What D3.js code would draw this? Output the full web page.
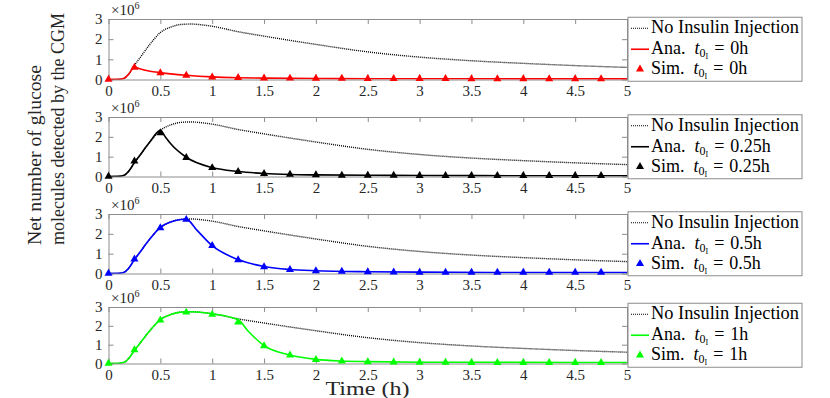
<!DOCTYPE html>
<html>
<head>
<meta charset="utf-8">
<script src="https://cdn.jsdelivr.net/npm/d3@7"></script>
<style>
body{margin:0;background:#fff;}
.axis path,.axis line{stroke:#8c8c8c;}
</style>
</head>
<body>
<svg id="chart" width="830" height="398"></svg>
<script>
// no insulin injection curve (same in every panel), values in 1e6
var timeNo = [0, 0.1, 0.15, 0.2, 0.25, 0.3, 0.4, 0.5, 0.6, 0.7, 0.8, 0.9, 1.0, 1.25, 1.5, 1.75, 2.0, 2.5, 3.0, 3.5, 4.0, 4.5, 5.0];
var noInsulin = [0, 0.01, 0.06, 0.3, 0.7, 1.05, 1.75, 2.33, 2.6, 2.73, 2.75, 2.71, 2.64, 2.37, 2.15, 1.94, 1.74, 1.37, 1.11, 0.93, 0.8, 0.69, 0.6];

// analytic curves
var anaTime0 = [0, 0.1, 0.15, 0.2, 0.25, 0.3, 0.4, 0.5, 0.6, 0.75, 1.0, 1.25, 1.5, 2.0, 2.5, 3.0, 4.0, 5.0];
var ana0 = [0, 0.01, 0.06, 0.3, 0.62, 0.53, 0.41, 0.34, 0.28, 0.21, 0.13, 0.09, 0.07, 0.05, 0.04, 0.04, 0.03, 0.03];
var anaTime025 = [0, 0.1, 0.15, 0.2, 0.25, 0.3, 0.4, 0.5, 0.55, 0.6, 0.75, 1.0, 1.25, 1.5, 1.75, 2.0, 2.5, 3.0, 4.0, 5.0];
var ana025 = [0, 0.01, 0.06, 0.3, 0.7, 1.05, 1.75, 2.33, 1.98, 1.65, 0.97, 0.45, 0.25, 0.15, 0.1, 0.08, 0.06, 0.05, 0.04, 0.04];
var anaTime05 = [0, 0.1, 0.15, 0.2, 0.25, 0.3, 0.4, 0.5, 0.6, 0.7, 0.75, 0.85, 1.0, 1.25, 1.5, 1.75, 2.0, 2.5, 3.0, 4.0, 5.0];
var ana05 = [0, 0.01, 0.06, 0.3, 0.7, 1.05, 1.75, 2.33, 2.6, 2.72, 2.74, 2.2, 1.4, 0.7, 0.35, 0.2, 0.14, 0.09, 0.07, 0.05, 0.05];
var anaTime1 = [0, 0.1, 0.15, 0.2, 0.25, 0.3, 0.4, 0.5, 0.6, 0.7, 0.8, 0.9, 1.0, 1.25, 1.35, 1.5, 1.75, 2.0, 2.25, 2.5, 3.0, 4.0, 5.0];
var ana1 = [0, 0.01, 0.06, 0.3, 0.7, 1.05, 1.75, 2.33, 2.6, 2.73, 2.75, 2.71, 2.64, 2.32, 1.7, 0.95, 0.45, 0.22, 0.13, 0.1, 0.07, 0.06, 0.05];

// simulation markers
var simTime = [0, 0.25, 0.5, 0.75, 1, 1.25, 1.5, 1.75, 2, 2.25, 2.5, 2.75, 3, 3.25, 3.5, 3.75, 4, 4.25, 4.5, 4.75];
var sim0 = [0, 0.6, 0.33, 0.2, 0.12, 0.09, 0.07, 0.06, 0.05, 0.05, 0.04, 0.04, 0.04, 0.04, 0.03, 0.03, 0.03, 0.03, 0.03, 0.03];
var sim025 = [0, 0.77, 2.2, 0.95, 0.44, 0.24, 0.14, 0.1, 0.08, 0.06, 0.05, 0.05, 0.04, 0.04, 0.04, 0.04, 0.04, 0.04, 0.04, 0.04];
var sim05 = [0, 0.72, 2.3, 2.72, 1.4, 0.68, 0.33, 0.19, 0.13, 0.1, 0.08, 0.07, 0.06, 0.06, 0.05, 0.05, 0.05, 0.05, 0.05, 0.05];
var sim1 = [0, 0.72, 2.3, 2.72, 2.6, 2.2, 0.93, 0.44, 0.2, 0.12, 0.09, 0.07, 0.06, 0.06, 0.05, 0.05, 0.05, 0.05, 0.05, 0.05];

var xTicks = [0, 0.5, 1, 1.5, 2, 2.5, 3, 3.5, 4, 4.5, 5];
var yTicks = [0, 1, 2, 3];
var injLabels = ["0", "0.25", "0.5", "1"];
var colors = ["#ff0000", "#000000", "#0000ff", "#00ff00"];

var serif = "'Liberation Serif', 'Times New Roman', 'DejaVu Serif', serif";

var panels = [
  {anaT: anaTime0, ana: ana0, sim: sim0},
  {anaT: anaTime025, ana: ana025, sim: sim025},
  {anaT: anaTime05, ana: ana05, sim: sim05},
  {anaT: anaTime1, ana: ana1, sim: sim1}
];
var tops = [19, 117, 214, 307];
var bottoms = [79.5, 176.5, 273.5, 363.5];

var svg = d3.select("#chart");
var x = d3.scaleLinear().domain([0, 5]).range([108.5, 627]);

function setFont(sel, size){
  sel.attr("font-family", serif).style("font-family", serif).style("font-size", size + "px");
}

panels.forEach(function(p, i){
  var y = d3.scaleLinear().domain([0, 3]).range([bottoms[i], tops[i]]);
  var g = svg.append("g");

  g.append("clipPath").attr("id", "clip" + i)
    .append("rect").attr("x", x(0)).attr("y", tops[i])
    .attr("width", x(5) - x(0)).attr("height", bottoms[i] - tops[i]);

  // axes, ticks inward like matlab
  var xb = g.append("g").attr("class", "axis").attr("transform", "translate(0," + bottoms[i] + ")")
    .call(d3.axisBottom(x).tickValues(xTicks).tickSizeInner(-5).tickSizeOuter(0).tickPadding(6).tickFormat(function(d){ return d; }));
  g.append("g").attr("class", "axis").attr("transform", "translate(0," + tops[i] + ")")
    .call(d3.axisTop(x).tickValues(xTicks).tickSizeInner(-5).tickSizeOuter(0).tickFormat(""));
  var yl = g.append("g").attr("class", "axis").attr("transform", "translate(" + x(0) + ",0)")
    .call(d3.axisLeft(y).tickValues(yTicks).tickSizeInner(-5).tickSizeOuter(0).tickPadding(6).tickFormat(function(d){ return d; }));
  g.append("g").attr("class", "axis").attr("transform", "translate(" + x(5) + ",0)")
    .call(d3.axisRight(y).tickValues(yTicks).tickSizeInner(-5).tickSizeOuter(0).tickFormat(""));
  setFont(xb.selectAll("text").attr("fill", "#262626"), 15);
  setFont(yl.selectAll("text").attr("fill", "#262626"), 15);

  // x10^6 exponent label
  var ex = g.append("text").attr("x", 111).attr("y", tops[i] - 4).style("fill", "#262626");
  setFont(ex, 15);
  ex.append("tspan").text("\u00d710");
  ex.append("tspan").attr("dy", -6).style("font-size", "10px").text("6");

  var line = d3.line().curve(d3.curveMonotoneX)
    .x(function(d){ return x(d[0]); }).y(function(d){ return y(d[1]); });

  var plot = g.append("g").attr("clip-path", "url(#clip" + i + ")");
  plot.append("path").datum(d3.zip(timeNo, noInsulin))
    .attr("d", line).attr("fill", "none").attr("stroke", "#000")
    .attr("stroke-width", 1.4).attr("stroke-dasharray", "1,1");
  plot.append("path").datum(d3.zip(p.anaT, p.ana))
    .attr("d", line).attr("fill", "none").attr("stroke", colors[i]).attr("stroke-width", 1.6);

  var tri = d3.symbol().type(d3.symbolTriangle).size(28);
  g.selectAll("path.mk").data(d3.zip(simTime, p.sim)).enter()
    .append("path").attr("class", "mk")
    .attr("d", tri)
    .attr("transform", function(d){ return "translate(" + x(d[0]) + "," + y(d[1]) + ")"; })
    .attr("fill", colors[i]);

  // legend
  var lh = 64, lw = 174;
  var ly = (tops[i] + bottoms[i]) / 2 - lh / 2;
  var lx = 628;
  var lg = g.append("g").attr("transform", "translate(" + lx + "," + ly + ")");
  lg.append("rect").attr("width", lw).attr("height", lh)
    .attr("fill", "#fff").attr("stroke", "#8c8c8c").attr("stroke-width", 1);
  var rows = [16, 37, 57];
  lg.append("line").attr("x1", 3).attr("x2", 21).attr("y1", rows[0] - 5).attr("y2", rows[0] - 5)
    .attr("stroke", "#000").attr("stroke-width", 1.2).attr("stroke-dasharray", "1,1");
  lg.append("line").attr("x1", 3).attr("x2", 21).attr("y1", rows[1] - 5).attr("y2", rows[1] - 5)
    .attr("stroke", colors[i]).attr("stroke-width", 1.6);
  lg.append("path").attr("d", tri).attr("fill", colors[i])
    .attr("transform", "translate(12," + (rows[2] - 5) + ")");

  var t0 = lg.append("text").attr("x", 23).attr("y", rows[0])
    .attr("textLength", 148).attr("lengthAdjust", "spacingAndGlyphs")
    .text("No Insulin Injection");
  setFont(t0, 18);
  ["Ana.", "Sim."].forEach(function(name, k){
    var t = lg.append("text").attr("x", 23).attr("y", rows[k + 1]);
    setFont(t, 18);
    t.append("tspan").text(name);
    t.append("tspan").attr("dx", 9).style("font-style", "italic").text("t");
    t.append("tspan").attr("dy", 3).style("font-size", "12px").text("0");
    t.append("tspan").attr("dy", 2).style("font-size", "8px").text("I");
    t.append("tspan").attr("dy", -5).attr("dx", 6).text("=");
    t.append("tspan").attr("dx", 6).text(injLabels[i] + "h");
  });
});

// axis titles
var xt = svg.append("text").attr("x", 367.5).attr("y", 394.5).attr("text-anchor", "middle")
  .style("fill", "#262626")
  .attr("textLength", 84).attr("lengthAdjust", "spacingAndGlyphs")
  .text("Time (h)");
setFont(xt, 19);
var ylab = [["Net number of glucose", 41, 180, 19.5], ["molecules detected by the CGM", 64, 232, 18.5]];
ylab.forEach(function(l){
  var t = svg.append("text").attr("transform", "translate(" + l[1] + ",245) rotate(-90)")
    .style("fill", "#262626")
    .attr("textLength", l[2]).attr("lengthAdjust", "spacingAndGlyphs")
    .text(l[0]);
  setFont(t, l[3]);
});
</script>
</body>
</html>
